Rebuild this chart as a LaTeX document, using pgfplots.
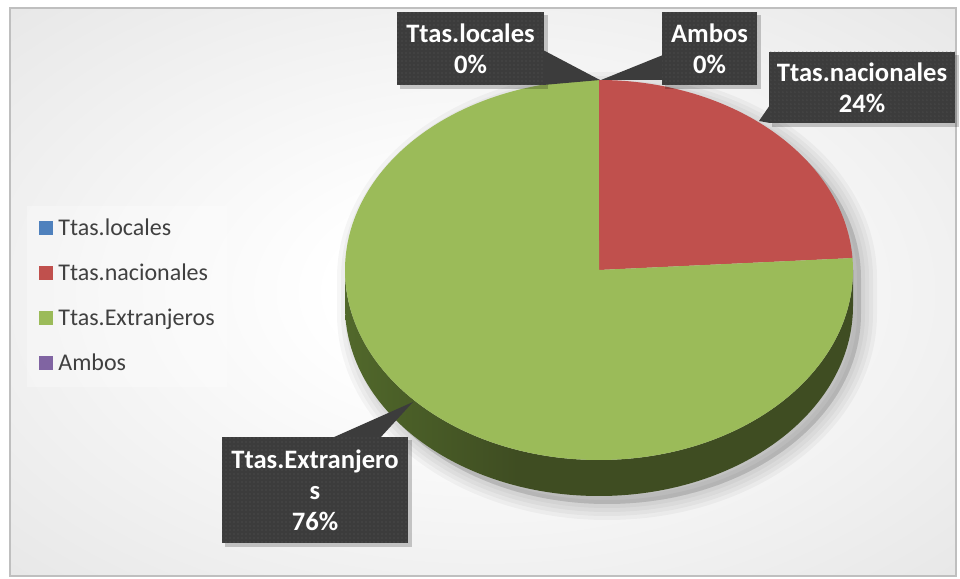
\documentclass[border=0pt]{standalone}
\usepackage{pgfplots}
\usepackage{pgfplotstable}
\pgfplotsset{compat=1.18}
\usepackage{fontspec}
\setmainfont{Carlito}
\usetikzlibrary{patterns}

\definecolor{cblue}{HTML}{4F81BD}
\definecolor{cred}{HTML}{C0504D}
\definecolor{cgreen}{HTML}{9BBB59}
\definecolor{cpurple}{HTML}{8064A2}
\definecolor{boxgray}{HTML}{3C3C3C}
\definecolor{dotgray}{HTML}{575757}
\definecolor{legtext}{HTML}{404040}
\definecolor{framegray}{HTML}{BFBFBF}
\definecolor{sideA}{HTML}{819E47}
\definecolor{sideB}{HTML}{5C7530}
\definecolor{sideC}{HTML}{4B6028}
\definecolor{sideD}{HTML}{3F4D22}

% chart area background: light centre, grey corners
\pgfdeclareradialshading{bgshade}{\pgfpoint{0bp}{0bp}}{%
  color(0bp)=(white); color(8bp)=(white); color(50bp)=(black!14); color(72bp)=(black!23)}
% pie side: lighter on the left, dark olive on the right
\pgfdeclarehorizontalshading{sideshade}{100bp}{%
  color(0bp)=(sideA); color(17bp)=(sideB); color(30bp)=(sideC); color(42bp)=(sideD); color(100bp)=(sideD)}
\pgfdeclarepatternformonly{finedots}{\pgfpointorigin}{\pgfpoint{2.2pt}{2.2pt}}{\pgfpoint{2.2pt}{2.2pt}}%
  {\pgfpathcircle{\pgfpoint{1.1pt}{1.1pt}}{0.35pt}\pgfusepath{fill}}

\tikzset{lbl/.style={text=white, font=\bfseries\fontsize{13.3}{15.5}\selectfont, align=center, inner sep=0pt}}

\pgfplotstableread{
label value
Ttas.locales 0
Ttas.nacionales 24
Ttas.Extranjeros 76
Ambos 0
}\piedata

\pgfplotstablegetelem{0}{value}\of\piedata\let\vloc\pgfplotsretval
\pgfplotstablegetelem{1}{value}\of\piedata\let\vnac\pgfplotsretval
\pgfplotstablegetelem{2}{value}\of\piedata\let\vext\pgfplotsretval
\pgfplotstablegetelem{3}{value}\of\piedata\let\vamb\pgfplotsretval
\pgfmathsetmacro\total{\vloc+\vnac+\vext+\vamb}
% slices run clockwise from the top
\pgfmathsetmacro\aA{90-\vloc/\total*360}
\pgfmathsetmacro\aB{\aA-\vnac/\total*360}
\pgfmathsetmacro\aC{\aB-\vext/\total*360}
\def\rx{127pt}
\def\ry{95pt}
\def\th{18pt}

\begin{document}
\begin{tikzpicture}
\begin{axis}[
  scale only axis, width=480pt, height=289.5pt,
  xmin=0, xmax=960, ymin=0, ymax=579,
  hide axis, ticks=none, clip=false,
  legend style={at={(0.028125,0.6442)}, anchor=north west, draw=none, fill=none,
    inner xsep=6pt, inner ysep=6pt, row sep=12.5pt, column sep=2.5pt,
    font=\fontsize{12}{14}\selectfont,
    nodes={inner sep=0pt, text height=8.4pt, text depth=1.6pt, text=legtext}},
  legend cell align=left,
  legend image code/.code={\fill[#1] (0pt,-3.5pt) rectangle (7pt,3.5pt);},
]
\fill[white] (axis cs:0,0) rectangle (axis cs:960,579);
\path[shading=bgshade, draw=framegray, line width=1pt] (axis cs:10,571) rectangle (axis cs:956,3);

% soft shadow under the pie
\pgfplotsinvokeforeach{16,12,8,4}{
  \path[fill=black, fill opacity=0.035, draw=black, draw opacity=0.035, line width=#1pt]
    (axis cs:353,301) arc[start angle=180, end angle=0, x radius=\rx, y radius=\ry]
    -- ++(0pt,-\th) arc[start angle=0, end angle=-180, x radius=\rx, y radius=\ry] -- cycle;
}

% side of the pie
\shade[shading=sideshade] (axis cs:345,309) arc[start angle=180, end angle=360, x radius=\rx, y radius=\ry]
  -- ++(0pt,-\th) arc[start angle=360, end angle=180, x radius=\rx, y radius=\ry] -- cycle;

% top face
\fill[cred] (axis cs:599,309) -- ++(\aA:127pt and 95pt)
  arc[start angle=\aA, end angle=\aB, x radius=\rx, y radius=\ry] -- cycle;
\fill[cgreen] (axis cs:599,309) -- ++(\aB:127pt and 95pt)
  arc[start angle=\aB, end angle=\aC, x radius=\rx, y radius=\ry] -- cycle;

% legend panel
\fill[white, opacity=0.3] (axis cs:27,373) rectangle (axis cs:227,192);
\addlegendimage{fill=cblue, draw=none}
\addlegendentry{Ttas.locales}
\addlegendimage{fill=cred, draw=none}
\addlegendentry{Ttas.nacionales}
\addlegendimage{fill=cgreen, draw=none}
\addlegendentry{Ttas.Extranjeros}
\addlegendimage{fill=cpurple, draw=none}
\addlegendentry{Ambos}

% data labels
\fill[black, opacity=0.2] (axis cs:400,564) rectangle (axis cs:548,490);
\fill[boxgray] (axis cs:397,567) rectangle (axis cs:544,494);
\fill[boxgray] (axis cs:543,529) -- (axis cs:600,499) -- (axis cs:543,494) -- cycle;
\fill[pattern=finedots, pattern color=dotgray] (axis cs:397,567) rectangle (axis cs:544,494);
\node[lbl] at (axis cs:470.5,530.5) {Ttas.locales\\\vloc\%};

\fill[black, opacity=0.2] (axis cs:665,564) rectangle (axis cs:761,490);
\fill[boxgray] (axis cs:662,567) rectangle (axis cs:757,494);
\fill[boxgray] (axis cs:663,524) -- (axis cs:601,499) -- (axis cs:663,499) -- cycle;
\fill[pattern=finedots, pattern color=dotgray] (axis cs:662,567) rectangle (axis cs:757,494);
\node[lbl] at (axis cs:709.5,530.5) {Ambos\\\vamb\%};

\fill[black, opacity=0.2] (axis cs:772,524) rectangle (axis cs:959,452);
\fill[boxgray] (axis cs:769,527) rectangle (axis cs:955,456);
\fill[boxgray] (axis cs:770,474) -- (axis cs:759,458) -- (axis cs:770,456) -- cycle;
\fill[pattern=finedots, pattern color=dotgray] (axis cs:769,527) rectangle (axis cs:955,456);
\node[lbl] at (axis cs:862,491.5) {Ttas.nacionales\\\vnac\%};

\fill[black, opacity=0.2] (axis cs:225,139) rectangle (axis cs:412,32);
\fill[boxgray] (axis cs:222,142) rectangle (axis cs:408,36);
\fill[boxgray] (axis cs:332,141) -- (axis cs:413,177) -- (axis cs:380,141) -- cycle;
\fill[pattern=finedots, pattern color=dotgray] (axis cs:222,142) rectangle (axis cs:408,36);
\node[lbl] at (axis cs:315,89) {Ttas.Extranjero\\s\\\vext\%};
\end{axis}
\pgfresetboundingbox
\path (current axis.south west) rectangle (current axis.north east);
\end{tikzpicture}
\end{document}
